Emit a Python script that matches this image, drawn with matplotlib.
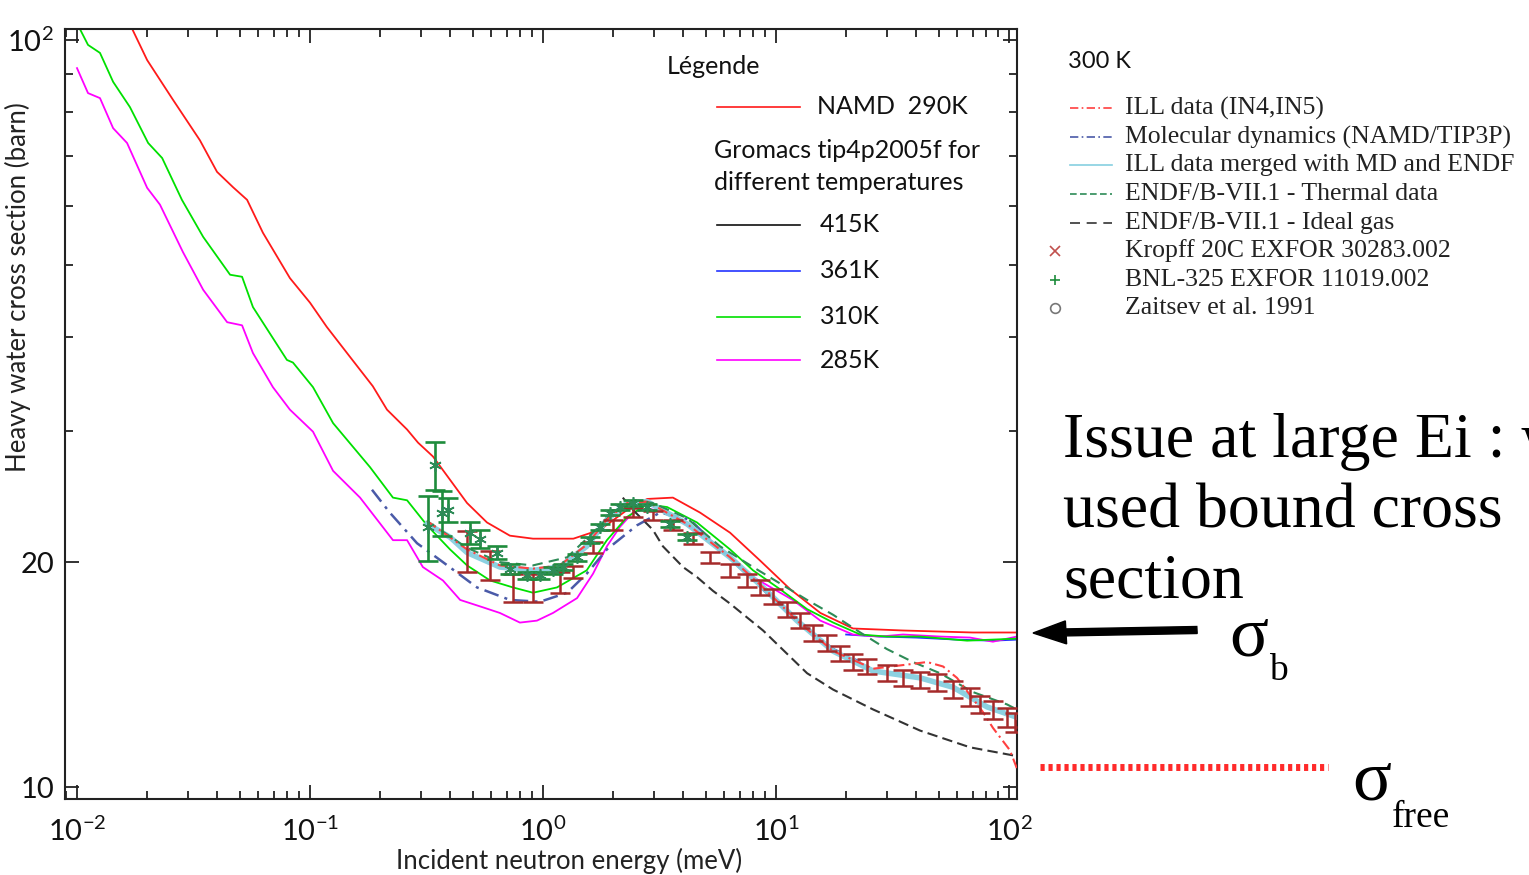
import numpy as np
import matplotlib
matplotlib.use("Agg")
import matplotlib.pyplot as plt
from matplotlib.lines import Line2D
from matplotlib.patches import FancyArrow
from matplotlib.ticker import FixedLocator, NullFormatter, LogLocator

plt.rcParams['font.family'] = ['Lato', 'DejaVu Sans']
plt.rcParams['mathtext.fontset'] = 'custom'
plt.rcParams['mathtext.rm'] = 'Lato'
plt.rcParams['mathtext.it'] = 'Lato:italic'
plt.rcParams['mathtext.bf'] = 'Lato:bold'

# ---- data (energy in meV, cross section in barn) ----
namd_E = [0.01655, 0.0200, 0.0258, 0.0337, 0.0399, 0.0468, 0.0537, 0.0628, 0.0820, 0.100,
          0.118, 0.149, 0.186, 0.214, 0.261, 0.291, 0.337, 0.472, 0.575, 0.721, 0.906, 1.35,
          1.76, 2.30, 2.80, 3.61, 4.72, 6.35, 8.54, 11.5, 15.5, 21.4, 35.1, 70.0, 108]
namd_S = [106.3, 94.0, 83.2, 73.4, 66.6, 63.5, 61.1, 55.2, 48.0, 44.5,
          41.3, 37.6, 34.4, 32.0, 30.1, 28.9, 27.7, 24.0, 22.6, 21.7, 21.5, 21.5,
          22.1, 23.5, 24.3, 24.4, 23.3, 21.9, 20.1, 18.4, 17.1, 16.3, 16.2, 16.1, 16.1]

g310_E = [0.0103, 0.01115, 0.01255, 0.01429, 0.01688, 0.0202, 0.0232, 0.0282, 0.0348, 0.0454,
          0.0511, 0.0569, 0.0796, 0.0845, 0.1030, 0.1256, 0.181, 0.227, 0.261, 0.318, 0.399,
          0.472, 0.593, 0.743, 0.906, 1.148, 1.54, 1.88, 2.30, 2.80, 3.41, 4.58, 6.35, 7.97,
          10.4, 13.6, 17.6, 23.0, 29.9, 41.5, 66.1, 108]
g310_S = [103.4, 98.5, 96.1, 87.9, 81.3, 72.8, 69.5, 61.1, 54.5, 48.5,
          48.2, 43.9, 37.3, 37.0, 34.3, 30.7, 26.8, 24.4, 24.2, 22.4, 20.8,
          19.8, 18.9, 18.5, 18.2, 18.5, 19.5, 21.4, 23.0, 23.9, 23.7, 22.6, 20.8, 19.5,
          18.4, 17.3, 16.6, 16.0, 15.9, 15.9, 15.7, 15.8]

g285_E = [0.0100, 0.01115, 0.01255, 0.01429, 0.0164, 0.0200, 0.0227, 0.0285, 0.0348, 0.0441,
          0.0511, 0.0569, 0.0693, 0.0820, 0.1030, 0.1256, 0.164, 0.227, 0.261, 0.305, 0.372,
          0.441, 0.552, 0.653, 0.796, 0.942, 1.104, 1.40, 1.64, 1.88, 2.14, 2.43, 2.80, 3.41,
          5.06, 7.97, 11.8, 15.5, 21.4, 27.9, 35.1, 50.6, 68.1, 85.3, 108]
g285_S = [91.7, 84.9, 83.6, 76.2, 72.8, 63.4, 60.2, 52.0, 46.3, 41.9,
          41.5, 38.1, 34.3, 32.0, 29.9, 26.5, 24.4, 21.4, 21.4, 19.7, 18.9,
          17.8, 17.4, 17.1, 16.6, 16.7, 17.1, 17.9, 19.3, 21.0, 22.3, 23.3, 23.6, 23.3,
          21.6, 19.1, 17.8, 16.7, 16.0, 15.9, 16.0, 15.9, 15.85, 15.65, 15.9]

g361_E = [20.0, 28.0, 40.0, 60.0, 85.0, 108]
g361_S = [16.0, 15.9, 15.85, 15.75, 15.7, 15.75]

gas_E = [2.20, 2.43, 2.96, 3.27, 3.99, 4.58, 5.37, 6.35, 8.80, 11.1, 13.6, 17.6, 26.1, 41.5, 68.1, 108]
gas_S = [24.4, 23.5, 22.1, 21.0, 19.7, 19.1, 18.3, 17.6, 16.2, 15.1, 14.2, 13.5, 12.7, 11.9, 11.3, 11.0]

merged_E = [0.318, 0.399, 0.472, 0.653, 0.906, 1.18, 1.54, 1.88, 2.30, 2.80, 4.15, 6.35, 8.80,
            12.3, 17.6, 26.1, 41.5, 57.5, 80.5, 108]
merged_S = [22.5, 21.6, 20.6, 19.7, 19.5, 19.7, 21.0, 22.8, 24.0, 24.1, 22.5, 20.3, 18.5,
            16.7, 15.2, 14.3, 14.0, 13.6, 12.8, 12.4]

md_E = [0.1845, 0.220, 0.288, 0.372, 0.521, 0.721, 0.970, 1.27, 1.54, 1.88, 2.53, 3.18, 4.27,
        6.81, 10.4, 13.6, 17.6, 23.0]
md_S = [25.0, 23.3, 21.2, 20.0, 18.5, 17.8, 17.7, 18.2, 19.3, 20.8, 22.4, 23.3, 22.8,
        19.8, 17.5, 16.3, 15.3, 14.7]

thermal_E = [0.318, 0.472, 0.653, 0.906, 1.27, 1.59, 2.00, 2.48, 2.96, 4.15, 5.75, 7.97, 11.1,
             13.6, 17.6, 23.0, 29.9, 38.7, 50.6, 70.0, 98.0, 108]
thermal_S = [22.7, 20.9, 20.0, 19.8, 20.3, 21.7, 23.3, 24.2, 24.0, 22.9, 21.0, 19.7, 18.5,
             17.8, 17.0, 16.1, 15.3, 14.7, 14.2, 13.4, 12.9, 12.7]

ill_E = [0.318, 0.472, 0.653, 0.906, 1.18, 1.54, 1.88, 2.30, 2.80, 4.15, 6.35, 8.80, 12.3, 17.6,
         26.1, 37.6, 44.5, 52.1, 59.8, 77.3, 85.3, 100.9, 108]
ill_S = [22.7, 20.8, 19.8, 19.6, 19.8, 21.1, 22.8, 24.0, 24.1, 22.5, 20.3, 18.5, 16.7, 15.2,
         14.4, 14.6, 14.7, 14.5, 14.0, 12.6, 12.0, 11.2, 10.6]

kropff_E = [0.472, 0.593, 0.743, 0.906, 1.18, 1.35, 1.64, 2.00, 2.43, 2.96, 3.61, 4.40, 5.21,
            6.35, 7.52, 8.54, 9.71, 11.1, 12.7, 14.4, 16.6, 18.8, 21.4, 24.6, 29.9, 35.1,
            41.5, 49.1, 57.5, 68.1, 75.2, 85.3, 98.0, 106]
kropff_S = [20.7, 19.8, 18.5, 18.5, 18.8, 19.4, 20.9, 22.4, 23.3, 23.1, 22.4, 21.5, 20.3,
            19.5, 18.9, 18.5, 18.0, 17.3, 16.7, 16.1, 15.6, 15.1, 14.7, 14.5, 14.2, 14.0,
            13.9, 13.8, 13.5, 13.2, 12.9, 12.7, 12.4, 12.2]
kropff_err = [1.3, 0.9, 0.8, 0.8, 0.6, 0.35, 0.35, 0.35, 0.35, 0.35, 0.35, 0.35, 0.35,
              0.4, 0.4, 0.4, 0.4, 0.4, 0.4, 0.4, 0.4, 0.35, 0.35, 0.35, 0.35, 0.35,
              0.35, 0.35, 0.35, 0.35, 0.35, 0.35, 0.35, 0.35]

bnl_E = [0.321, 0.344, 0.369, 0.391, 0.487, 0.537, 0.635, 0.721, 0.853, 0.970, 1.10, 1.22,
         1.40, 1.59, 1.76, 1.94, 2.14, 2.43, 2.80, 3.51, 4.15]
bnl_S = [22.3, 27.0, 23.3, 23.5, 21.9, 21.5, 20.6, 19.6, 19.2, 19.2, 19.5, 19.7,
         20.3, 21.4, 22.3, 23.3, 23.7, 24.0, 23.7, 22.5, 21.6]
bnl_err = [2.2, 2.0, 1.6, 0.9, 0.75, 0.6, 0.4, 0.3, 0.2, 0.2, 0.2, 0.2,
           0.2, 0.2, 0.2, 0.2, 0.2, 0.2, 0.2, 0.2, 0.2]

x_ticks = [1e-2, 1e-1, 1e0, 1e1, 1e2]
x_ticklabels = [r'$10^{-2}$', r'$10^{-1}$', r'$10^{0}$', r'$10^{1}$', r'$10^{2}$']
y_ticks = [10, 20, 100]
y_ticklabels = ['10', '20', r'$10^{2}$']
y_minor = [30, 40, 50, 60, 70, 80, 90]

W, H = 1529, 875


def fxy(px, py):
    """figure pixel (from top-left) -> figure fraction"""
    return px / W, 1 - py / H


fig = plt.figure(figsize=(W / 100, H / 100), dpi=100)
ax = fig.add_axes([65 / W, 1 - 799 / H, (1017 - 65) / W, (799 - 29) / H])
ax.set_xscale('log')
ax.set_yscale('log')

# Gromacs / NAMD lines
ax.plot(g361_E, g361_S, color='#2233ff', lw=1.3, zorder=2)
ax.plot(g285_E, g285_S, color='#ff00ff', lw=1.3, zorder=2)
ax.plot(g310_E, g310_S, color='#00e000', lw=1.3, zorder=2)
ax.plot(namd_E, namd_S, color='#ff1a1a', lw=1.3, zorder=2)

# evaluations and data
ax.plot(gas_E, gas_S, color='#333333', lw=1.5, ls=(0, (5, 2.5)), zorder=3)
ax.plot(md_E, md_S, color='#4a5aa8', lw=1.8, ls=(0, (6, 2.5, 1.2, 2.5)), zorder=3)
ax.plot(merged_E, merged_S, color='#86cfe0', lw=4, alpha=0.95, zorder=4)
ax.plot(thermal_E, thermal_S, color='#2e8b57', lw=1.5, ls=(0, (5, 3)), zorder=5)
ax.plot(ill_E, ill_S, color='#ff4040', lw=1.5, ls=(0, (5, 2, 1, 2)), zorder=5)

ax.errorbar(kropff_E, kropff_S, yerr=kropff_err, fmt='none', ecolor='#a52a2a',
            elinewidth=1.8, capsize=7, capthick=1.8, zorder=6)
ax.errorbar(bnl_E, bnl_S, yerr=bnl_err, fmt='none', ecolor='#1e8c3c',
            elinewidth=1.9, capsize=7, capthick=1.9, zorder=6)
ax.plot(bnl_E, bnl_S, ls='none', marker=(6, 2, 0), ms=9, mew=1.2, color='#2e8b57', zorder=7)

ax.set_xlim(10 ** (-2 - 12 / 233), 10 ** (2 + 8 / 233))
ax.set_ylim(10 ** (2 - 759 / 747), 10 ** (2 + 11 / 747))

ax.set_xticks(x_ticks)
ax.set_xticklabels(x_ticklabels)
ax.xaxis.set_minor_locator(LogLocator(base=10, subs=np.arange(2, 10), numticks=20))
ax.xaxis.set_minor_formatter(NullFormatter())
ax.set_yticks(y_ticks)
ax.set_yticklabels(y_ticklabels)
ax.yaxis.set_minor_locator(FixedLocator(y_minor))
ax.yaxis.set_minor_formatter(NullFormatter())

ax.tick_params(which='both', direction='in', top=True, right=True, width=1.3,
               colors='#222222', labelsize=21, labelcolor='#111111')
ax.tick_params(which='major', length=10)
ax.tick_params(which='minor', length=6)
ax.tick_params(axis='x', pad=13)
ax.tick_params(axis='y', pad=8)
for sp in ax.spines.values():
    sp.set_linewidth(1.5)
    sp.set_color('#222222')

ax.set_xlabel('Incident neutron energy (meV)', fontsize=18.5, color='#222222')
ax.xaxis.set_label_coords(0.53, -0.064)
ax.set_ylabel('Heavy water cross section (barn)', fontsize=18.5, color='#222222')
ax.yaxis.set_label_coords(-0.036, 0.665)

# ---- legend inside the plot ----
lfs = 18
fig.text(*fxy(667, 66), 'Légende', fontsize=lfs, va='center', ha='left', color='#111111')
fig.add_artist(Line2D([717 / W, 800 / W], [1 - 107 / H] * 2, color='#ff1a1a', lw=1.2))
fig.text(*fxy(817, 107), 'NAMD  290K', fontsize=lfs, va='center', ha='left', color='#111111')
fig.text(*fxy(714, 150), 'Gromacs tip4p2005f for', fontsize=lfs, va='center', ha='left', color='#111111')
fig.text(*fxy(714, 183), 'different temperatures', fontsize=lfs, va='center', ha='left', color='#111111')
for py, col, lab in [(225, '#111111', '415K'), (271, '#2233ff', '361K'),
                     (317, '#00e000', '310K'), (360, '#ff00ff', '285K')]:
    fig.add_artist(Line2D([717 / W, 800 / W], [1 - py / H] * 2, color=col, lw=1.2))
    fig.text(*fxy(820, py), lab, fontsize=lfs, va='center', ha='left', color='#111111')

# ---- legend on the right ----
fig.text(*fxy(1068, 61), '300 K', fontsize=17, va='center', ha='left', color='#111111')
serif = ['Liberation Serif', 'DejaVu Serif']
rfs = 18.5
right_entries = [
    (108, dict(color='#ff4040', ls=(0, (5, 2, 1, 2))), 'ILL data (IN4,IN5)'),
    (137, dict(color='#4a5aa8', ls=(0, (5, 2, 1, 2))), 'Molecular dynamics (NAMD/TIP3P)'),
    (165, dict(color='#86cfe0', ls='-'), 'ILL data merged with MD and ENDF'),
    (194, dict(color='#2e8b57', ls=(0, (4, 2))), 'ENDF/B-VII.1 - Thermal data'),
    (223, dict(color='#333333', ls=(0, (6, 4))), 'ENDF/B-VII.1 - Ideal gas'),
]
for py, sty, lab in right_entries:
    fig.add_artist(Line2D([1070 / W, 1112 / W], [1 - py / H] * 2, lw=1.2, **sty))
    fig.text(*fxy(1125, py), lab, fontsize=rfs, family=serif, va='center', ha='left', color='#222222')
for py, mk, col, lab in [(251, 'x', '#c0504d', 'Kropff 20C EXFOR 30283.002'),
                         (280, '+', '#1e8c3c', 'BNL-325 EXFOR 11019.002'),
                         (308, 'o', '#777777', 'Zaitsev et al. 1991')]:
    fig.add_artist(Line2D([1055 / W], [1 - py / H], marker=mk, ms=7, mew=1.2,
                          color=col, mfc='none', ls='none'))
    fig.text(*fxy(1125, py), lab, fontsize=rfs, family=serif, va='center', ha='left', color='#222222')

# ---- annotations ----
big = ['Liberation Serif', 'DejaVu Serif']
for py, line in [(457, 'Issue at large Ei : we'), (527, 'used bound cross'), (598, 'section')]:
    fig.text(*fxy(1063, py), line, fontsize=46, family=big, va='baseline', ha='left', color='black')

x0, y0 = fxy(1197, 630)
x1, y1 = fxy(1033, 633)
fig.add_artist(FancyArrow(x0, y0, x1 - x0, y1 - y0, width=7 / H, head_width=23 / H,
                          head_length=33 / W, length_includes_head=True,
                          color='black', transform=fig.transFigure))
fig.text(*fxy(1229, 655), 'σ', fontsize=52, family=big, va='baseline', ha='left')
fig.text(*fxy(1269, 680), 'b', fontsize=27, family=big, va='baseline', ha='left')

fig.add_artist(Line2D([1040 / W, 1328 / W], [1 - 767 / H] * 2, color='#ff2a2a', lw=5,
                      ls=(0, (0.6, 0.55)), solid_capstyle='butt', dash_capstyle='butt'))
fig.text(*fxy(1352, 800), 'σ', fontsize=52, family=big, va='baseline', ha='left')
fig.text(*fxy(1392, 827), 'free', fontsize=27, family=big, va='baseline', ha='left')

fig.savefig('out.png', dpi=100, facecolor='white')
